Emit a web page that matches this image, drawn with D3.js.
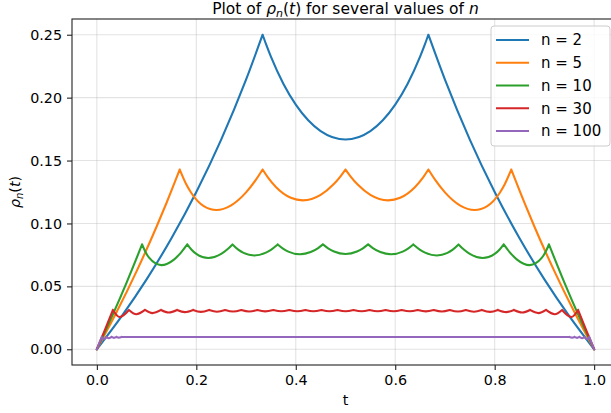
<!DOCTYPE html>
<html><head><meta charset="utf-8">
<script src="https://cdn.jsdelivr.net/npm/d3@7"></script>
<style>html,body{margin:0;padding:0;background:#fff;}svg{display:block;font-family:"DejaVu Sans",sans-serif;}</style>
</head><body>
<svg id="chart" width="611" height="413"></svg>
<script>
const seriesLabels = ["n = 2", "n = 5", "n = 10", "n = 30", "n = 100"];
const seriesColors = ["#1f77b4", "#ff7f0e", "#2ca02c", "#d62728", "#9467bd"];
const xTicks = [0, 0.2, 0.4, 0.6, 0.8, 1.0];
const yTicks = [0, 0.05, 0.10, 0.15, 0.20, 0.25];

const t2 = [0,0.05,0.1,0.15,0.2,0.25,0.3,0.333333,0.34,0.35,0.375,0.4,0.425,0.45,0.5,0.55,0.575,0.6,0.625,0.65,0.66,0.666667,0.7,0.75,0.8,0.85,0.9,0.95,1];
const rho2 = [0,0.02632,0.05556,0.08824,0.125,0.16667,0.21429,0.25,0.24272,0.2326,0.21111,0.19444,0.18201,0.1734,0.16667,0.1734,0.18201,0.19444,0.21111,0.2326,0.24272,0.25,0.21429,0.16667,0.125,0.08824,0.05556,0.02632,0];

const t5 = [0,0.04,0.08,0.12,0.14,0.166667,0.18,0.19,0.215,0.2403,0.27,0.3,0.32,0.333333,0.345,0.36,0.39,0.4142,0.45,0.475,0.49,0.5,0.51,0.525,0.55,0.5858,0.61,0.64,0.655,0.666667,0.68,0.7,0.73,0.7597,0.785,0.81,0.82,0.833333,0.86,0.88,0.92,0.96,1];
const rho5 = [0,0.02976,0.06211,0.0974,0.11628,0.142857,0.13098,0.12423,0.11381,0.1107,0.1144,0.12472,0.1348,0.142857,0.136,0.12897,0.1204,0.11835,0.12265,0.13068,0.13748,0.142857,0.13748,0.13068,0.12265,0.11835,0.1204,0.12897,0.136,0.142857,0.1348,0.12472,0.1144,0.1107,0.11381,0.12423,0.13098,0.142857,0.11628,0.0974,0.06211,0.02976,0];

const t10 = [0,0.03,0.06,0.090909,0.097,0.105,0.12973,0.155,0.17,0.181818,0.19,0.2,0.224,0.25,0.262,0.272727,0.285,0.295,0.3164,0.34,0.35,0.363636,0.375,0.385,0.4083,0.43,0.445,0.454545,0.465,0.477,0.5,0.523,0.535,0.545455,0.555,0.57,0.5917,0.615,0.625,0.636364,0.65,0.66,0.6836,0.705,0.715,0.727273,0.738,0.75,0.776,0.8,0.81,0.818182,0.83,0.845,0.87027,0.895,0.903,0.909091,0.94,0.97,1];
const rho10 = [0,0.02577,0.05319,0.083333,0.07793,0.07278,0.06691,0.0713,0.077261,0.083333,0.079302,0.075758,0.07249,0.075758,0.079256,0.083333,0.078992,0.076596,0.074586,0.076838,0.079088,0.083333,0.0798,0.077582,0.075495,0.077241,0.080451,0.083333,0.080234,0.077685,0.075758,0.077685,0.080234,0.083333,0.080451,0.077241,0.075495,0.077582,0.0798,0.083333,0.079088,0.076838,0.074586,0.076596,0.078992,0.083333,0.079256,0.075758,0.07249,0.075758,0.079302,0.083333,0.077261,0.0713,0.06691,0.07278,0.07793,0.083333,0.05319,0.02577,0];

const t30 = [0,0.016,0.032258,0.045753,0.064516,0.079156,0.096774,0.11189,0.129032,0.14441,0.16129,0.17684,0.193548,0.20922,0.225806,0.24157,0.258065,0.2739,0.290323,0.30621,0.322581,0.33852,0.354839,0.37082,0.387097,0.40312,0.419355,0.43541,0.451613,0.46771,0.483871,0.5,0.516129,0.53229,0.548387,0.56459,0.580645,0.59688,0.612903,0.62918,0.645161,0.66148,0.677419,0.69379,0.709677,0.7261,0.741935,0.75843,0.774194,0.79078,0.806452,0.82316,0.83871,0.85559,0.870968,0.88811,0.903226,0.920844,0.935484,0.954247,0.967742,0.984,1];
const rho30 = [0,0.01524,0.03125,0.025632,0.03125,0.027822,0.03125,0.028724,0.03125,0.029215,0.03125,0.029521,0.03125,0.029728,0.03125,0.029875,0.03125,0.029983,0.03125,0.030064,0.03125,0.030125,0.03125,0.03017,0.03125,0.030203,0.03125,0.030225,0.03125,0.030238,0.03125,0.030242,0.03125,0.030238,0.03125,0.030225,0.03125,0.030203,0.03125,0.03017,0.03125,0.030125,0.03125,0.030064,0.03125,0.029983,0.03125,0.029875,0.03125,0.029728,0.03125,0.029521,0.03125,0.029215,0.03125,0.028724,0.03125,0.027822,0.03125,0.025632,0.03125,0.01524,0];

const t100 = [0,0.009901,0.014014,0.019802,0.024265,0.029703,0.034311,0.039604,0.044291,0.049505,0.1,0.3,0.5,0.7,0.9,0.950495,0.955709,0.960396,0.965689,0.970297,0.975735,0.980198,0.985986,0.990099,1];
const rho100 = [0,0.009804,0.008097,0.009804,0.008788,0.009804,0.009075,0.009804,0.009232,0.009804,0.00975,0.00975,0.00975,0.00975,0.00975,0.009804,0.009232,0.009804,0.009075,0.009804,0.008788,0.009804,0.008097,0.009804,0];

const seriesT = [t2, t5, t10, t30, t100];
const seriesRho = [rho2, rho5, rho10, rho30, rho100];

const svg = d3.select("#chart");
svg.append("rect").attr("width", 611).attr("height", 413).attr("fill", "#fff");

const L = 72, R = 619, T = 19, B = 365;
const x = d3.scaleLinear().domain([-0.05, 1.05]).range([L, R]);
const y = d3.scaleLinear().domain([-0.0125, 0.2625]).range([B, T]);

// grid
const grid = svg.append("g");
grid.selectAll(".gx").data(xTicks).join("line")
  .attr("x1", d => x(d)).attr("x2", d => x(d)).attr("y1", T).attr("y2", B)
  .attr("stroke", "#b0b0b0").attr("stroke-opacity", 0.35).attr("stroke-width", 1.1);
grid.selectAll(".gy").data(yTicks).join("line")
  .attr("x1", L).attr("x2", R).attr("y1", d => y(d)).attr("y2", d => y(d))
  .attr("stroke", "#b0b0b0").attr("stroke-opacity", 0.35).attr("stroke-width", 1.1);

// lines: split at cusps (local maxima) and smooth each piece
const line = d3.line().x(d => x(d[0])).y(d => y(d[1])).curve(d3.curveMonotoneX);
function segmentsOf(ts, vs) {
  const segs = [];
  let cur = [[ts[0], vs[0]]];
  for (let i = 1; i < ts.length; i++) {
    cur.push([ts[i], vs[i]]);
    if (i < ts.length - 1 && vs[i] > vs[i - 1] && vs[i] > vs[i + 1]) {
      segs.push(cur);
      cur = [[ts[i], vs[i]]];
    }
  }
  segs.push(cur);
  return segs;
}
seriesT.forEach((ts, si) => {
  const d = segmentsOf(ts, seriesRho[si]).map(s => line(s)).join("");
  svg.append("path").attr("d", d).attr("fill", "none")
    .attr("stroke", seriesColors[si]).attr("stroke-width", 2.1)
    .attr("stroke-linejoin", "round").attr("stroke-linecap", "round");
});

// spines
svg.append("rect").attr("x", L).attr("y", T).attr("width", R - L).attr("height", B - T)
  .attr("fill", "none").attr("stroke", "#222").attr("stroke-width", 1.1);

// axes
const xAxis = svg.append("g").attr("transform", `translate(0,${B})`)
  .call(d3.axisBottom(x).tickValues(xTicks).tickFormat(d3.format(".1f")).tickSize(5).tickPadding(5));
const yAxis = svg.append("g").attr("transform", `translate(${L},0)`)
  .call(d3.axisLeft(y).tickValues(yTicks).tickFormat(d3.format(".2f")).tickSize(5).tickPadding(5));
[xAxis, yAxis].forEach(a => {
  a.select(".domain").remove();
  a.selectAll(".tick line").attr("stroke", "#222").attr("stroke-width", 1.1);
  a.selectAll(".tick text").attr("fill", "#000").style("font-size", "14.3px").style("font-family", "DejaVu Sans");
});

// title
const title = svg.append("text").attr("x", 345.5).attr("y", 14).attr("text-anchor", "middle")
  .style("font-size", "15.5px").attr("fill", "#000");
title.append("tspan").text("Plot of ");
title.append("tspan").style("font-style", "italic").text("ρ");
title.append("tspan").style("font-style", "italic").style("font-size", "11px").attr("dy", 3).text("n");
title.append("tspan").attr("dy", -3).text("(");
title.append("tspan").style("font-style", "italic").text("t");
title.append("tspan").text(") for several values of ");
title.append("tspan").style("font-style", "italic").text("n");

// x label
svg.append("text").attr("x", 345.5).attr("y", 405).attr("text-anchor", "middle")
  .style("font-size", "14.3px").attr("fill", "#000").text("t");

// y label
const yl = svg.append("text").attr("transform", "translate(20,192) rotate(-90)").attr("text-anchor", "middle")
  .style("font-size", "14.3px").attr("fill", "#000");
yl.append("tspan").style("font-style", "italic").text("ρ");
yl.append("tspan").style("font-style", "italic").style("font-size", "10px").attr("dy", 3).text("n");
yl.append("tspan").attr("dy", -3).text("(");
yl.append("tspan").style("font-style", "italic").text("t");
yl.append("tspan").text(")");

// legend
const lg = svg.append("g");
lg.append("rect").attr("x", 491).attr("y", 26).attr("width", 119).attr("height", 120).attr("rx", 3)
  .attr("fill", "#fff").attr("fill-opacity", 0.8).attr("stroke", "#cccccc").attr("stroke-width", 1);
seriesLabels.forEach((lab, i) => {
  const yy = 40 + i * 22.75;
  lg.append("line").attr("x1", 496).attr("x2", 529).attr("y1", yy).attr("y2", yy)
    .attr("stroke", seriesColors[i]).attr("stroke-width", 2.1);
  lg.append("text").attr("x", 541).attr("y", yy).attr("dy", "0.36em")
    .style("font-size", "15px").attr("fill", "#000").text(lab);
});
</script>
</body></html>
